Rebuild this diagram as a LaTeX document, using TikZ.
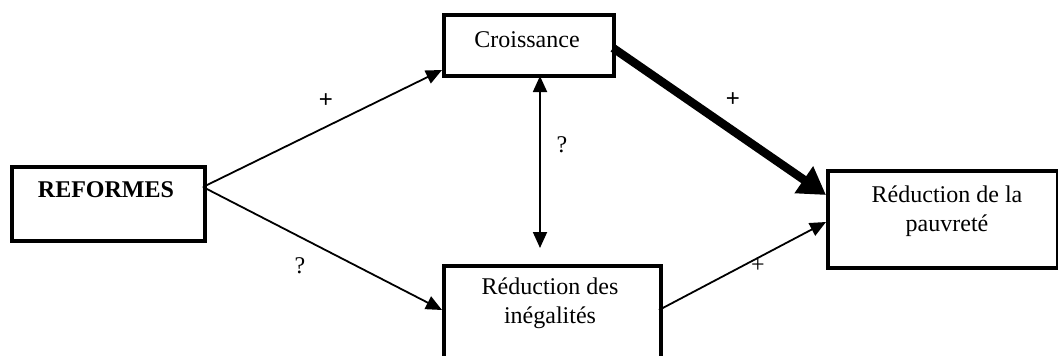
\documentclass[tikz,border=0pt]{standalone}
\usepackage{fontspec}
\setmainfont{Liberation Serif}
\newfontfamily\plusfont{Liberation Sans}
\usetikzlibrary{arrows.meta}
\tikzset{
  box/.style={draw, line width=3.5pt, anchor=north west, inner sep=0pt},
  lbl/.style={font=\fontsize{24}{29}\selectfont, align=center, inner sep=0pt},
  conn/.style={line width=1.8pt, -{Triangle[length=16pt,width=14pt]}},
  bigconn/.style={line width=8.5pt, -{Triangle[length=27pt,width=31pt]}},
  sign/.style={font=\fontsize{24}{28}\selectfont, inner sep=0pt},
}
\begin{document}
\begin{tikzpicture}[x=1pt,y=-1pt]
\useasboundingbox (0,0) rectangle (1058,356);
\clip (0,0) rectangle (1058,356);
% boxes
\node[box, minimum width=193pt, minimum height=74pt] (ref) at (10,165) {};
\node[box, minimum width=170pt, minimum height=61pt] (cro) at (442,13) {};
\node[box, minimum width=217pt, minimum height=110pt] (ine) at (442,264) {};
\node[box, minimum width=230pt, minimum height=97pt] (pau) at (826,169) {};
% texts
\node[lbl, font=\fontsize{24}{29}\selectfont\bfseries] (reftxt) at (106,190) {REFORMES};
\node[lbl] (crotxt) at (527,40) {Croissance};
\node[lbl] (inetxt) at (550,303) {Réduction des\\inégalités};
\node[lbl] (pautxt) at (947,211) {Réduction de la\\pauvreté};
% anchor coordinates
\coordinate (refout) at (203,187);
\coordinate (croin) at (442,70);
\coordinate (inein) at (442,310);
\coordinate (croout) at (613,48);
\coordinate (pauin1) at (826,195);
\coordinate (ineout) at (659,310);
\coordinate (pauin2) at (826,222);
\coordinate (vtop) at (540,76);
\coordinate (vbot) at (540,248);
% connectors
\draw[conn] (refout) -- (croin);
\draw[conn] (refout) -- (inein);
\draw[conn, {Triangle[length=16pt,width=14pt]}-{Triangle[length=16pt,width=14pt]}] (vtop) -- (vbot);
\draw[bigconn] (croout) -- (pauin1);
\draw[conn] (ineout) -- (pauin2);
% signs
\node[sign, font=\fontsize{24}{28}\plusfont] (s1) at (326,101) {+};
\node[sign] (s2) at (300,266) {?};
\node[sign] (s3) at (562,145) {?};
\node[sign, font=\fontsize{24}{28}\plusfont] (s4) at (733,100) {+};
\node[sign] (s5) at (758,266) {+};
\end{tikzpicture}
\end{document}
